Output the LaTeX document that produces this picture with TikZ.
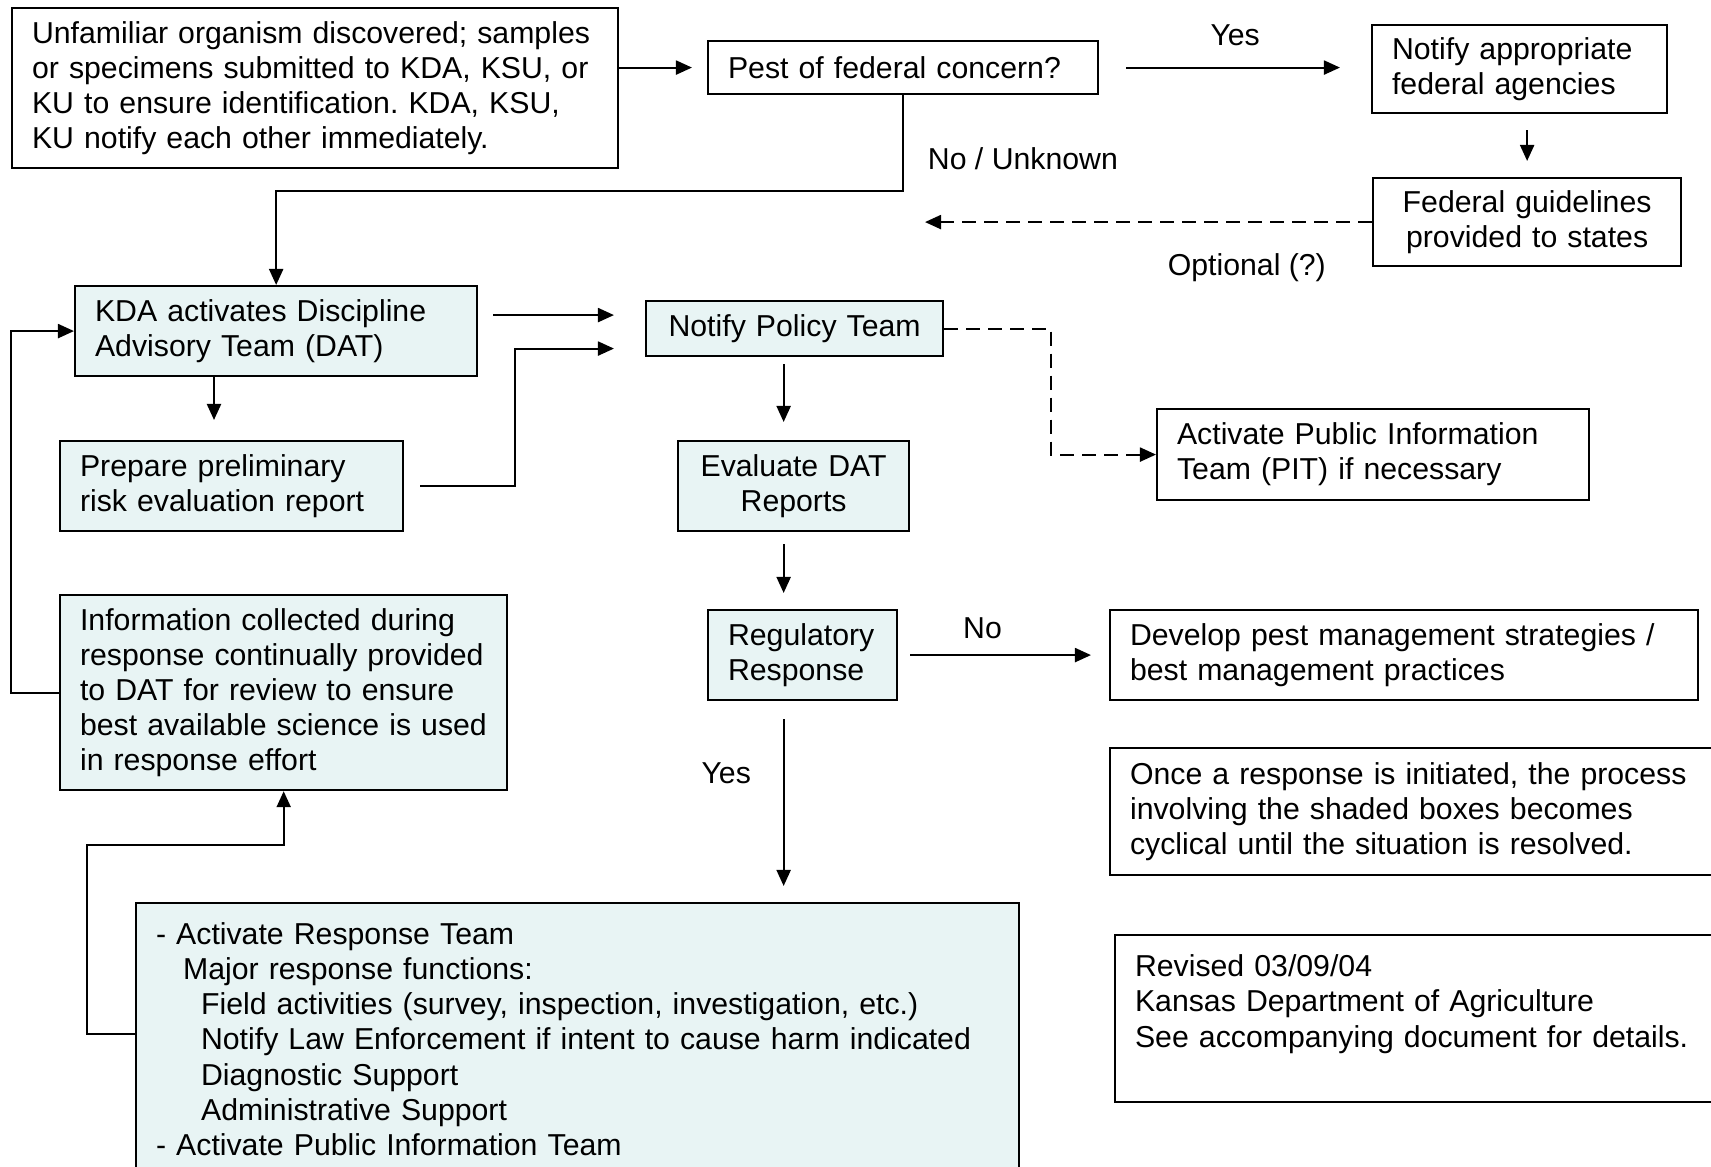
\documentclass[tikz,border=0pt]{standalone}
\usepackage{fontspec}
\setmainfont{Liberation Sans}
\usetikzlibrary{arrows.meta,calc}
\definecolor{shade}{RGB}{232,244,244}
\frenchspacing

\begin{document}
\begin{tikzpicture}[
    x=0.01cm, y=-0.01cm,
    every node/.style={font=\fontsize{8.6}{10}\selectfont},
    box/.style={rectangle, draw, line width=0.6pt, anchor=north west, align=left, inner xsep=0.2cm, inner ysep=0pt},
    shaded/.style={box, fill=shade},
    arrow/.style={-{Triangle[length=0.16cm, width=0.14cm]}, line width=0.6pt},
    dasharrow/.style={arrow, dash pattern=on 0.14cm off 0.08cm}
]
    \useasboundingbox (0,0) rectangle (1711,1167);

    % Discovery and federal check
    \node[box, text width=5.66cm, minimum height=1.6cm] (find) at (11,7) {Unfamiliar organism discovered; samples\\or specimens submitted to KDA, KSU, or\\KU to ensure identification. KDA, KSU,\\KU notify each other immediately.};
    \node[box, text width=3.5cm, minimum height=0.53cm] (fed) at (707,40) {Pest of federal concern?};
    \node[box, text width=2.55cm, minimum height=0.88cm] (agency) at (1371,24) {Notify appropriate\\federal agencies};
    \node[box, text width=2.68cm, minimum height=0.88cm, align=center] (guide) at (1372,177) {Federal guidelines\\provided to states};

    % Shaded cycle boxes
    \node[shaded, text width=3.62cm, minimum height=0.9cm] (dat) at (74,285) {KDA activates Discipline\\Advisory Team (DAT)};
    \node[shaded, text width=2.57cm, minimum height=0.55cm, align=center] (policy) at (645,300) {Notify Policy Team};
    \node[shaded, text width=3.03cm, minimum height=0.9cm] (prelim) at (59,440) {Prepare preliminary\\risk evaluation report};
    \node[shaded, text width=1.95cm, inner xsep=0.18cm, minimum height=0.9cm, align=center] (evalr) at (677,440) {Evaluate DAT\\Reports};
    \node[shaded, text width=1.49cm, minimum height=0.9cm] (reg) at (707,609) {Regulatory\\Response};
    \node[shaded, text width=4.07cm, minimum height=1.95cm] (info) at (59,594) {Information collected during\\response continually provided\\to DAT for review to ensure\\best available science is used\\in response effort};
    \node[shaded, text width=8.42cm, minimum height=2.72cm] (resp) at (135,902) {- Activate Response Team\\
        \hspace*{0.27cm}Major response functions:\\
        \hspace*{0.45cm}Field activities (survey, inspection, investigation, etc.)\\
        \hspace*{0.45cm}Notify Law Enforcement if intent to cause harm indicated\\
        \hspace*{0.45cm}Diagnostic Support\\
        \hspace*{0.45cm}Administrative Support\\
        - Activate Public Information Team};

    % Plain boxes on the right
    \node[box, text width=3.92cm, minimum height=0.91cm] (pit) at (1156,408) {Activate Public Information\\Team (PIT) if necessary};
    \node[box, text width=5.48cm, minimum height=0.9cm] (mgmt) at (1109,609) {Develop pest management strategies /\\best management practices};
    \node[box, text width=5.8cm, minimum height=1.27cm] (note) at (1109,747) {Once a response is initiated, the process\\involving the shaded boxes becomes\\cyclical until the situation is resolved.};
    \node[box, text width=5.8cm, minimum height=1.67cm] (rev) at (1114,934) {Revised 03/09/04\\Kansas Department of Agriculture\\See accompanying document for details.\\\mbox{}};

    % Helper points
    \coordinate (optend) at ($(guide.west)+(-447,0)$);
    \coordinate (dat1) at ($(dat.east)+(0,-16)$);
    \coordinate (dat2) at ($(dat.south west)+(140,0)$);
    \coordinate (pol2) at ($(policy.west)+(0,20)$);
    \coordinate (col) at ($(policy.south)+(-11,0)$);
    \coordinate (resp1) at ($(resp.north west)+(0,132)$);

    % Flow arrows
    \draw[arrow, shorten >=0.15cm] (fed.west -| find.east) -- (fed.west);
    \draw[arrow, shorten <=0.27cm, shorten >=0.31cm] (fed.east) -- node[above=0.09cm] {Yes} (fed.east -| agency.west);
    \draw[arrow, shorten <=0.16cm, shorten >=0.16cm] (guide.north |- agency.south) -- (guide.north);
    \draw[dasharrow] (guide.west) -- node[pos=0.28, below=0.19cm] {Optional (?)} (optend);
    \draw[arrow] (fed.south) -- node[pos=0.66, right=0.12cm] {No / Unknown} ++(0,96) -| (dat.north);
    \draw[arrow, shorten <=0.15cm, shorten >=0.31cm] (dat1) -- (dat1 -| policy.west);
    \draw[arrow, shorten >=0.2cm] (dat2) -- (dat2 |- prelim.north);
    \draw[arrow, shorten <=0.16cm, shorten >=0.31cm] (prelim.east) -- ++(111,0) |- (pol2);
    \draw[arrow, shorten <=0.07cm, shorten >=0.18cm] (col) -- (col |- evalr.north);
    \draw[dasharrow] (policy.east) -- ++(107,0) |- (pit.west);
    \draw[arrow, shorten <=0.12cm, shorten >=0.16cm] (col |- evalr.south) -- (col |- reg.north);
    \draw[arrow, shorten <=0.12cm, shorten >=0.18cm] (reg.east) -- node[pos=0.4, above=0.04cm] {No} (reg.east -| mgmt.west);
    \draw[arrow, shorten <=0.18cm, shorten >=0.16cm] (col |- reg.south) -- node[pos=0.36, left=0.2cm] {Yes} (col |- resp.north);

    % Feedback loop
    \draw[arrow] (resp1) -- ++(-48,0) |- ($(info.south)+(0,54)$) -- (info.south);
    \draw[arrow] (info.west) -- ++(-48,0) |- (dat.west);
\end{tikzpicture}
\end{document}
